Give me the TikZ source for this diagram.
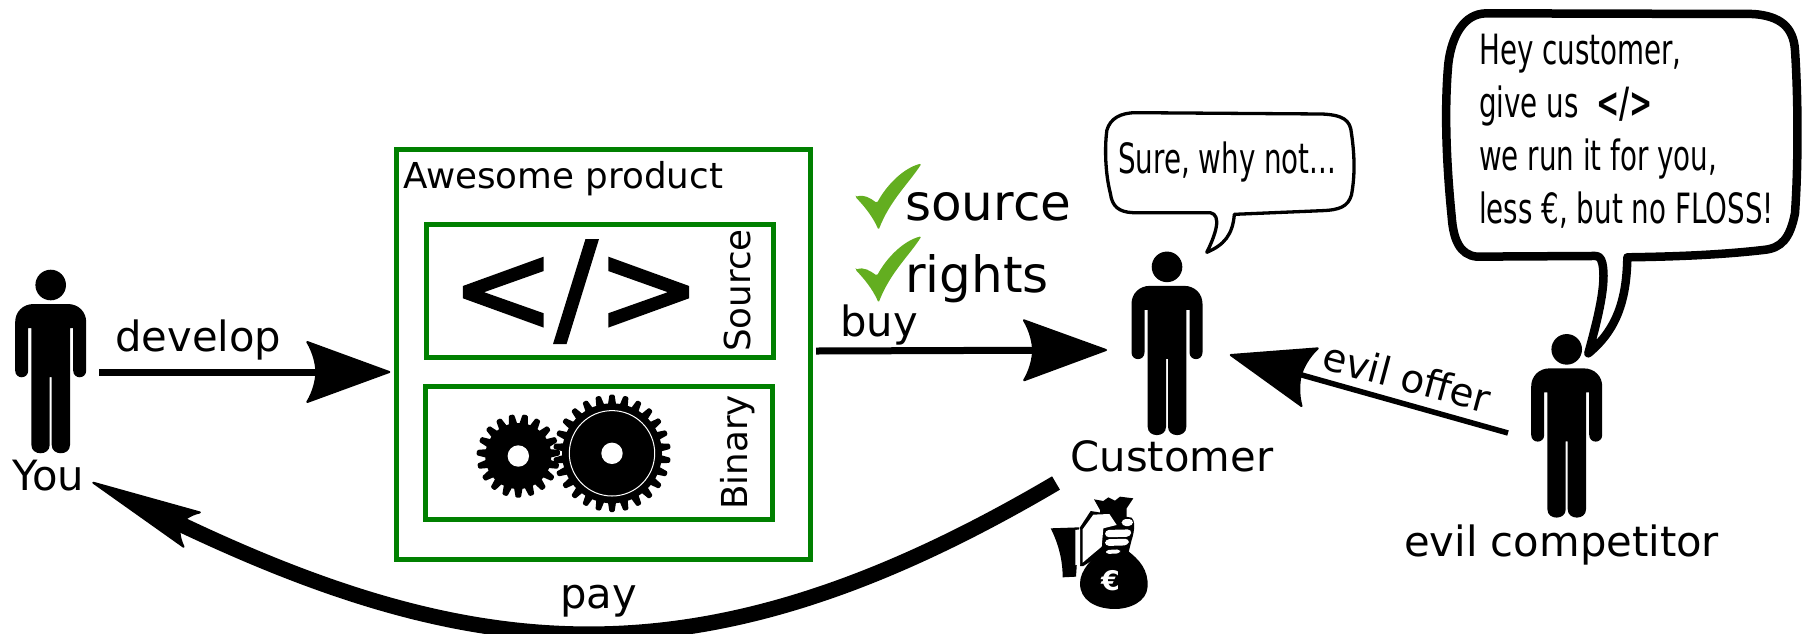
\documentclass[tikz,border=0pt]{standalone}
\usepackage{fontspec}
\setmainfont{DejaVu Sans}
\newfontfamily\condfont[FakeStretch=0.665]{DejaVu Sans}
\newfontfamily\heavyfont[FakeBold=2.5]{DejaVu Sans}
\usetikzlibrary{arrows.meta}
\newcommand\pxfont[1]{\fontsize{#1}{#1}\selectfont}
\definecolor{boxgreen}{HTML}{008000}
\definecolor{tickgreen}{HTML}{63AE20}
\pgfdeclarearrow{
  name=Spear,
  parameters={\the\pgfarrowlength,\the\pgfarrowwidth},
  setup code={
    \pgfarrowssettipend{0pt}
    \pgfarrowssetlineend{-0.85\pgfarrowlength}
    \pgfarrowssetvisualbackend{-\pgfarrowlength}
    \pgfarrowssetbackend{-\pgfarrowlength}
    \pgfarrowssavethe\pgfarrowlength
    \pgfarrowssavethe\pgfarrowwidth
  },
  drawing code={
    \pgfsetlinewidth{2pt}\pgfsetroundjoin\pgfsetdash{}{0pt}
    \pgfpathmoveto{\pgfqpoint{0pt}{0pt}}
    \pgfpathlineto{\pgfqpoint{-\pgfarrowlength}{0.5\pgfarrowwidth}}
    \pgfpathcurveto{\pgfqpoint{-0.92\pgfarrowlength}{0.32\pgfarrowwidth}}{\pgfqpoint{-0.89\pgfarrowlength}{0.12\pgfarrowwidth}}{\pgfqpoint{-0.89\pgfarrowlength}{0pt}}
    \pgfpathcurveto{\pgfqpoint{-0.89\pgfarrowlength}{-0.12\pgfarrowwidth}}{\pgfqpoint{-0.92\pgfarrowlength}{-0.32\pgfarrowwidth}}{\pgfqpoint{-\pgfarrowlength}{-0.5\pgfarrowwidth}}
    \pgfpathclose
    \pgfusepathqfillstroke
  },
  defaults={length=82pt,width=60pt}
}
\newcommand\personshape[1]{%
  \begin{scope}[shift={(#1.center)}]
  \begin{scope}[shift={(0,-76.35)}]
    \fill (0,0) circle[radius=15.3];
    \fill (-17,19) -- (17,19) .. controls (28,19) and (35.5,27) .. (35.5,37) -- (35.5,85.5)
      .. controls (35.5,94.5) and (22.5,94.5) .. (22.5,85.5) -- (22.5,43) -- (19.3,43) -- (19.3,160)
      .. controls (19.3,171) and (1,171) .. (1,160) -- (1,92) -- (-1,92) -- (-1,160)
      .. controls (-1,171) and (-19.3,171) .. (-19.3,160) -- (-19.3,43) -- (-22.5,43) -- (-22.5,85.5)
      .. controls (-22.5,94.5) and (-35.5,94.5) .. (-35.5,85.5) -- (-35.5,37)
      .. controls (-35.5,27) and (-28,19) .. (-17,19) -- cycle;
  \end{scope}
  \end{scope}}
\newcommand\gearshape[6]{% cx cy root tip teeth halfwidth
  \fill (#1,#2) circle[radius=#3];
  \foreach \k in {1,...,#5}{
    \fill[rounded corners=1.2pt,shift={(#1,#2)},rotate=\k*360/#5]
      (-#6,#3-2) -- (-#6*0.6,#4) -- (#6*0.6,#4) -- (#6,#3-2) -- cycle;
  }
  \fill[white] (#1,#2) circle[radius=10.7];}
\tikzset{
  x=1pt,y=-1pt,
  person/.style={minimum width=71,minimum height=184,inner sep=0,outer sep=0},
  greenbox/.style={draw=boxgreen,line width=5,inner sep=0,outer sep=0},
  flow/.style={line width=7,draw=black},
  label/.style={anchor=base west,inner sep=0,text=black},
  bubble/.style={draw=black,fill=white,line join=round},
  tick/.style={fill=tickgreen,rounded corners=1.5pt}
}
\begin{document}
\begin{tikzpicture}
\useasboundingbox (0,0) rectangle (1803,633);
\clip (0,0) rectangle (1803,633);
% people
\node[person] (you) at (50.7,361.35) {};
\node[person] (customer) at (1167,343.2) {};
\node[person] (evil) at (1566.7,425.7) {};
\personshape{you}
\personshape{customer}
\personshape{evil}
% boxes
\node[greenbox,minimum width=414,minimum height=410] (product) at (603.5,354.5) {};
\node[greenbox,minimum width=346.5,minimum height=132.8] (sourcebox) at (599.75,291.1) {};
\node[greenbox,minimum width=347,minimum height=132.5] (binarybox) at (599,452.75) {};
\node[label,font=\pxfont{35.7}] (awesome) at (403,188) {Awesome product};
\node[label,font=\heavyfont\pxfont{124}] (code) at (451,331) {</>};
\node[label,rotate=90,font=\pxfont{35.7}] (srclabel) at (750.7,352) {Source};
\node[label,rotate=90,font=\pxfont{35.7}] (binlabel) at (747.7,510) {Binary};
% gears
\gearshape{518.3}{456}{33}{41.7}{19}{4.4}
\gearshape{612}{453.3}{50}{58.7}{26}{4.2}
\draw[white,line width=1] (612,453.3) circle[radius=42.7];
% ticks
\foreach \dy in {0,72.7}{
  \fill[tick,shift={(0,\dy)}] (855.5,197) .. controls (864,194) and (870,198) .. (877,203)
    .. controls (886,186) and (903,168) .. (921.5,163.5) .. controls (910,182) and (890,200) .. (878.6,230)
    .. controls (872,215) and (863,205) .. (855.5,197) -- cycle;
}
\node[label,font=\pxfont{50}] (source) at (905,220) {source};
\node[label,font=\pxfont{50}] (rights) at (905,292.7) {rights};
% connectors
\draw[flow,-{Spear}] ([shift={(13.1,10.65)}]you.east) -- ([shift={(-7.2,17.5)}]product.west);
\draw[flow,-{Spear}] ([shift={(5.5,-3.5)}]product.east) -- ([shift={(-25.5,6.8)}]customer.west);
\draw[flow,-{Spear},line width=5.5] ([shift={(-23.2,7.3)}]evil.west) -- ([shift={(28.2,11.8)}]customer.east);
\draw[line width=15.5,-{Spear[length=109pt,width=38pt]}] ([shift={(-111,47.8)}]customer.south)
  .. controls (708,688) and (481.7,667.7) .. ([shift={(42.6,29.35)}]you.south);
% labels
\node[label,font=\pxfont{41.7}] (develop) at (115,351.7) {develop};
\node[label,font=\pxfont{41.7}] (youlabel) at (12,490) {You};
\node[label,font=\pxfont{41.7}] (buy) at (840,336) {buy};
\node[label,font=\pxfont{41.7}] (custlabel) at (1070.5,471.7) {Customer};
\node[label,font=\pxfont{41.7}] (evillabel) at (1404,556) {evil competitor};
\node[label,font=\pxfont{41.7}] (pay) at (560,608) {pay};
\node[font=\pxfont{39},rotate=-15,inner sep=0] (offer) at (1407,377) {evil offer};
% small bubble
\begin{scope}[shift={(840,100)},x=0.3444pt,y=-0.3333pt]
\draw[bubble,line width=3.3] (860,38) -- (1400,42) .. controls (1460,45) and (1482,60) .. (1485,100)
  .. controls (1495,170) and (1495,230) .. (1485,285) .. controls (1475,320) and (1450,330) .. (1400,332)
  -- (1145,343) .. controls (1140,405) and (1115,435) .. (1065,457)
  .. controls (1090,405) and (1110,345) .. (1075,338) -- (850,338)
  .. controls (810,336) and (790,320) .. (785,280) .. controls (770,220) and (768,140) .. (775,90)
  .. controls (785,55) and (815,38) .. (860,38) -- cycle;
\end{scope}
\node[anchor=base west,inner sep=0,font=\condfont\pxfont{41.7}] (sure) at (1118,173) {Sure, why not...};
% big bubble
\begin{scope}[shift={(1420,0)},x=0.3333pt,y=-0.3333pt]
\draw[bubble,line width=8.5] (200,40) -- (1000,42) .. controls (1080,48) and (1120,80) .. (1125,150)
  .. controls (1135,300) and (1135,500) .. (1125,640) .. controls (1110,715) and (1085,745) .. (1030,750)
  .. controls (900,765) and (760,770) .. (622,772) .. controls (620,900) and (590,990) .. (505,1060)
  .. controls (535,950) and (560,850) .. (547,790) .. controls (543,772) and (535,768) .. (525,768)
  -- (170,770) .. controls (120,765) and (100,720) .. (95,650)
  .. controls (75,450) and (75,300) .. (85,190) .. controls (95,110) and (130,40) .. (200,40) -- cycle;
\end{scope}
\node[anchor=north west,inner sep=0,align=left,font=\condfont\pxfont{41.7}] (hey) at (1479,34)
  {Hey customer,\\[11.3pt]give us\ \ {\bfseries </>}\\[11.3pt]we run it for you,\\[11.3pt]less €, but no FLOSS!};
% money bag
\begin{scope}[shift={(1020,440)},x=0.3333pt,y=-0.3333pt]
\fill (92,265) -- (178,262) -- (168,410) -- (128,412) .. controls (128,360) and (115,310) .. (92,265) -- cycle;
\fill (222,178) -- (250,183) -- (265,172) -- (285,182) -- (300,170) -- (340,175) -- (320,205) -- (320,330)
  .. controls (360,360) and (385,390) .. (383,440) .. controls (380,485) and (330,508) .. (280,507)
  .. controls (225,505) and (180,480) .. (180,430) .. controls (180,390) and (220,350) .. (250,330)
  -- (240,210) -- cycle;
\fill (180,262) -- (212,213) -- (335,233) .. controls (345,240) and (345,270) .. (335,300) -- (325,340) -- (250,340) -- (190,378) -- (180,378) -- cycle;
\fill[white] (166,270) -- (180,268) -- (180,375) -- (166,375) -- cycle;
\fill[white] (188,268) -- (220,224) -- (268,222) -- (290,255) -- (250,265) -- (245,320) -- (215,345) -- (188,368) -- cycle;
\fill[white,rounded corners=4pt] (305,237) -- (340,237) -- (338,258) -- (305,258) -- cycle;
\fill[white,rounded corners=4pt] (255,270) -- (335,268) -- (332,290) -- (255,292) -- cycle;
\fill[white,rounded corners=4pt] (255,298) -- (328,296) -- (325,316) -- (255,318) -- cycle;
\fill[white,rounded corners=3pt] (258,330) -- (300,328) -- (300,340) -- (258,342) -- cycle;
\end{scope}
\node[inner sep=0,text=white,font=\bfseries\pxfont{27}] (euro) at (1110.5,581) {€};
\end{tikzpicture}
\end{document}
